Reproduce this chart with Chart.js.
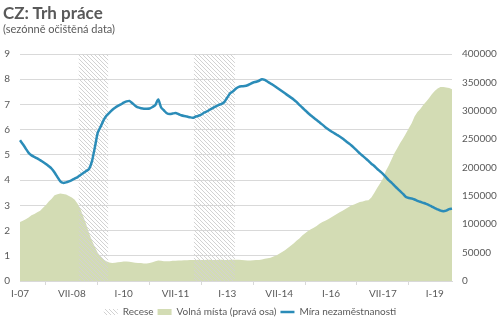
<!DOCTYPE html>
<html lang="cs">
<head>
<meta charset="UTF-8">
<title>CZ: Trh práce</title>
<script src="https://cdn.jsdelivr.net/npm/chart.js"></script>
<style>
  body { margin: 0; background: #fff; font-family: Lato, sans-serif; }
  .wrap { position: relative; width: 500px; height: 327px; }
  #title { position: absolute; left: 3px; top: 2px; font-size: 17px; font-weight: bold; color: #595959; }
  #subtitle { position: absolute; left: 3px; top: 22px; font-size: 11px; color: #595959; }
  canvas { position: absolute; left: 0; top: 0; }
</style>
</head>
<body>
<div class="wrap">
  <canvas id="chart" width="500" height="327"></canvas>
  <div id="title">CZ: Trh práce</div>
  <div id="subtitle">(sezónně očištěná data)</div>
</div>
<script>
// months I-07 .. VII-19
const romanMonths = ['I','II','III','IV','V','VI','VII','VIII','IX','X','XI','XII'];
const years = [7,8,9,10,11,12,13,14,15,16,17,18,19];
const labels = [];
years.forEach(y => romanMonths.forEach(m => labels.push(m + '-' + String(y).padStart(2, '0'))));
labels.length = 151;

// míra nezaměstnanosti (%)
const unemployment = [
  5.58, 5.42, 5.25, 5.08, 4.98, 4.92, 4.86, 4.79, 4.72, 4.64, 4.55, 4.45,
  4.30, 4.12, 3.95, 3.89, 3.91, 3.95, 4.00, 4.06, 4.12, 4.20, 4.28, 4.36,
  4.45, 4.75, 5.30, 5.88, 6.12, 6.37, 6.55, 6.67, 6.78, 6.87, 6.94, 7.00,
  7.07, 7.12, 7.14, 7.05, 6.95, 6.88, 6.85, 6.83, 6.83, 6.84, 6.90, 6.98,
  7.20, 6.88, 6.76, 6.65, 6.62, 6.64, 6.66, 6.62, 6.57, 6.54, 6.52, 6.49,
  6.47, 6.52, 6.55, 6.60, 6.68, 6.73, 6.80, 6.86, 6.92, 6.98, 7.02, 7.10,
  7.28, 7.45, 7.52, 7.63, 7.70, 7.72, 7.73, 7.76, 7.82, 7.87, 7.90, 7.94,
  8.00, 7.97, 7.90, 7.83, 7.76, 7.68, 7.60, 7.52, 7.44, 7.36, 7.28, 7.20,
  7.10, 6.98, 6.88, 6.77, 6.66, 6.56, 6.47, 6.38, 6.29, 6.20, 6.10, 6.02,
  5.94, 5.87, 5.80, 5.73, 5.65, 5.56, 5.47, 5.38, 5.28, 5.17, 5.06, 4.96,
  4.86, 4.76, 4.65, 4.56, 4.45, 4.35, 4.25, 4.13, 4.00, 3.90, 3.78, 3.67,
  3.56, 3.45, 3.33, 3.29, 3.27, 3.23, 3.18, 3.14, 3.10, 3.06, 3.01, 2.95,
  2.89, 2.84, 2.79, 2.77, 2.79, 2.85, 2.87
];

// volná pracovní místa (pravá osa)
const vacancies = [
  104000, 106000, 109000, 112000, 116000, 118000, 121000, 124000, 129000, 134000, 140000, 145000,
  151000, 153000, 154000, 153500, 152500, 150000, 147000, 143000, 136000, 127000, 113000, 100000,
  84000, 71000, 60000, 50000, 43000, 38000, 35000, 32500, 31500, 32000, 33000, 33500,
  34500, 34500, 34000, 33000, 32000, 31500, 31500, 31000, 31000, 31500, 33000, 35000,
  36000, 35500, 35000, 35000, 35000, 35500, 35500, 36000, 36000, 36500, 36500, 37000,
  37000, 37000, 37500, 37000, 37000, 37500, 37500, 37000, 37000, 37500, 37500, 37000,
  37000, 37500, 37500, 37500, 37500, 37000, 36500, 36000, 36000, 36500, 37000, 37000,
  38000, 39000, 40000, 41000, 43000, 45000, 48000, 51000, 54000, 58000, 62000, 66000,
  71000, 75000, 80000, 84000, 88000, 91000, 94000, 97000, 101000, 104000, 106000, 109000,
  112000, 115000, 118000, 121000, 124000, 127000, 130000, 133000, 135000, 137000, 139000, 140000,
  142000, 142500, 147000, 155000, 164000, 172000, 180000, 194000, 203000, 214000, 225000, 234000,
  243000, 251000, 260000, 269000, 278000, 290000, 298000, 303000, 310000, 316000, 322000, 329000,
  335000, 339000, 342000, 342000, 341000, 340000, 338000
];

// recese: první a poslední měsíc
const recessionPeriods = [['X-08', 'VII-09'], ['II-12', 'III-13']];
const recession = labels.map((l, i) =>
  recessionPeriods.some(([a, b]) => i >= labels.indexOf(a) && i <= labels.indexOf(b)) ? 9 : null);

const leftTicks = [0, 9, 1];
const rightTicks = [0, 400000, 50000];

// šrafování pro recese
function hatch() {
  const c = document.createElement('canvas');
  c.width = 4; c.height = 4;
  const g = c.getContext('2d');
  g.strokeStyle = '#d2d2d2';
  g.lineWidth = 1;
  g.beginPath();
  g.moveTo(-1, -1); g.lineTo(5, 5);
  g.moveTo(-1, 3); g.lineTo(1, 5);
  g.moveTo(3, -1); g.lineTo(5, 1);
  g.stroke();
  return g.createPattern(c, 'repeat');
}
const hatchFill = hatch();

const textColor = '#595959';
const font = { family: 'Lato', size: 10 };

new Chart(document.getElementById('chart'), {
  type: 'line',
  data: {
    labels: labels,
    datasets: [
      {
        type: 'bar',
        label: 'Recese',
        data: recession,
        backgroundColor: hatchFill,
        borderWidth: 0,
        barPercentage: 1,
        categoryPercentage: 1,
        yAxisID: 'y',
        order: 2
      },
      {
        label: 'Volná místa (pravá osa)',
        data: vacancies,
        backgroundColor: '#d3dcb4',
        borderColor: '#d3dcb4',
        borderWidth: 0,
        fill: 'origin',
        pointRadius: 0,
        tension: 0,
        yAxisID: 'y1',
        order: 3
      },
      {
        label: 'Míra nezaměstnanosti',
        data: unemployment,
        borderColor: '#2b8cb8',
        borderWidth: 2.5,
        fill: false,
        pointRadius: 0,
        tension: 0.2,
        yAxisID: 'y',
        order: 1
      }
    ]
  },
  options: {
    responsive: false,
    animation: false,
    layout: { padding: { top: 54, left: 0, right: 0, bottom: 0 } },
    plugins: {
      tooltip: { enabled: false },
      legend: {
        position: 'bottom',
        labels: {
          color: textColor,
          font: font,
          usePointStyle: true,
          pointStyleWidth: 14,
          boxHeight: 6,
          padding: 4,
          generateLabels(chart) {
            const items = Chart.defaults.plugins.legend.labels.generateLabels(chart);
            items.forEach(it => {
              const ds = chart.data.datasets[it.datasetIndex];
              if (ds.label === 'Míra nezaměstnanosti') {
                it.pointStyle = 'line';
                it.strokeStyle = ds.borderColor;
                it.lineWidth = 2.5;
              } else {
                it.pointStyle = 'rect';
                it.fillStyle = ds.backgroundColor;
                it.lineWidth = 0;
              }
            });
            return items.sort((a, b) => a.datasetIndex - b.datasetIndex);
          }
        }
      }
    },
    scales: {
      x: {
        offset: false,
        grid: { drawOnChartArea: false, drawTicks: true, tickLength: 4, color: '#d9d9d9' },
        border: { display: true, color: '#d9d9d9' },
        afterBuildTicks(scale) {
          scale.ticks = scale.ticks.filter(t => t.value % 18 === 0);
        },
        ticks: { autoSkip: false, maxRotation: 0, color: textColor, font: font, padding: 3 }
      },
      y: {
        position: 'left',
        min: leftTicks[0], max: leftTicks[1],
        ticks: { stepSize: leftTicks[2], color: textColor, font: font, padding: 10 },
        grid: { color: '#d9d9d9', drawTicks: false },
        border: { display: false },
        afterFit(scale) { scale.width = 20; }
      },
      y1: {
        position: 'right',
        min: rightTicks[0], max: rightTicks[1],
        ticks: { stepSize: rightTicks[2], color: textColor, font: font, padding: 10,
                 callback: v => String(v) },
        grid: { display: false, drawTicks: false },
        border: { display: false },
        afterFit(scale) { scale.width = 48; }
      }
    }
  }
});
</script>
</body>
</html>
